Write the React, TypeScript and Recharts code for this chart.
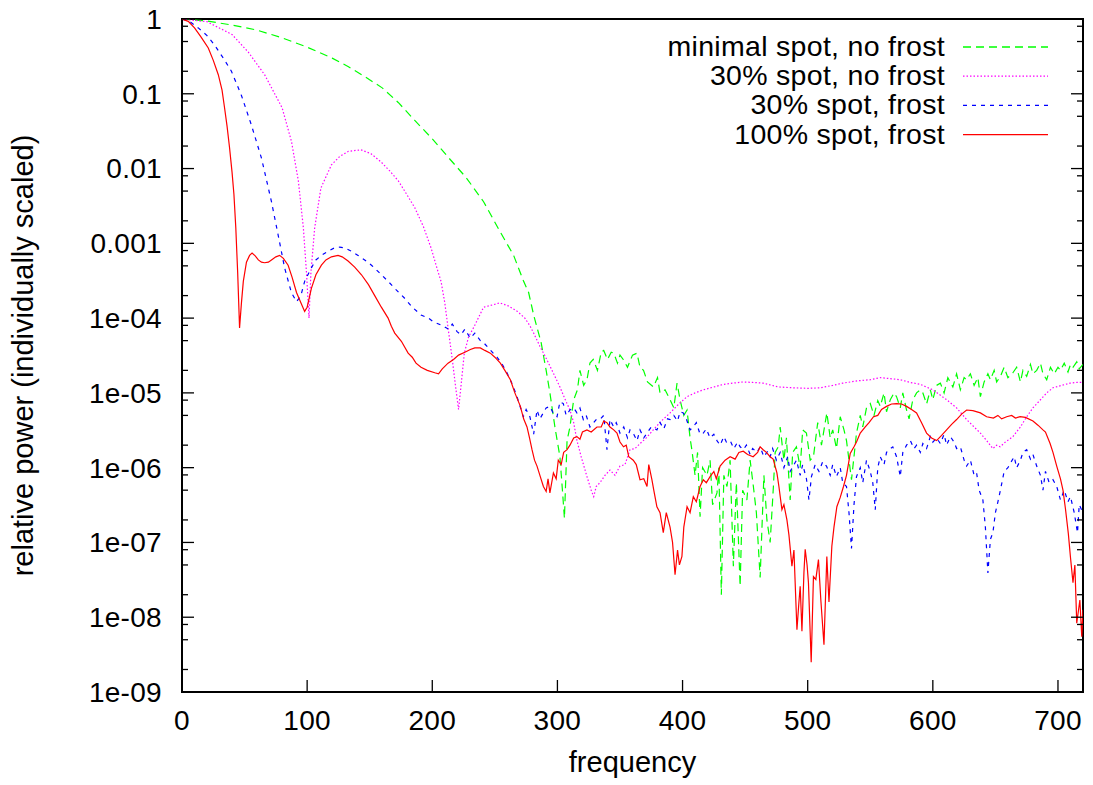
import { LineChart, Line, XAxis, YAxis, ReferenceArea, Legend } from 'recharts'

type Pt = [number, number]

// [frequency, relative power]
const minimalNoFrost: Pt[] = [
  [0, 1], [20, 0.94], [40, 0.83], [60, 0.71], [80, 0.56], [100, 0.42], [120, 0.3], [133, 0.23], [146, 0.17],
  [160, 0.12], [173, 0.076], [186, 0.044], [200, 0.025], [213, 0.014], [227, 0.0076], [241, 0.0036],
  [254, 0.00145], [265, 6.9e-4], [273, 3.1e-4], [277, 2.2e-4], [281, 1.1e-4], [287, 4.7e-5], [291, 2e-5],
  [294, 1e-5], [298, 3.5e-6], [302, 1.4e-6], [304, 5e-7], [305.6, 2.1e-7], [307.7, 2.3e-6], [310, 3.5e-6],
  [313, 8.1e-6], [316, 1.1e-5], [318, 2e-5], [321, 1.26e-5], [323.6, 1.5e-5], [326, 2.5e-5], [328.6, 2.8e-5],
  [332, 2e-5], [335, 3.5e-5], [337, 3.7e-5], [340, 2.8e-5], [343, 3.5e-5], [345, 3.4e-5], [348, 2.5e-5],
  [350, 3.2e-5], [352.6, 2.8e-5], [356, 2.2e-5], [360, 3.2e-5], [363.6, 3.4e-5], [366, 2.2e-5], [368.8, 2e-5],
  [372, 1.4e-5], [376.7, 1.2e-5], [380, 1.6e-5], [382, 1e-5], [386, 1.1e-5], [390, 8.1e-6], [393, 6.3e-6],
  [395.6, 1.35e-5], [398, 8.1e-6], [401, 5e-6], [403.6, 5.9e-6], [406, 2.5e-6], [407.5, 1.7e-6], [410, 7.9e-7],
  [412, 1.6e-6], [414, 2.2e-7], [416, 1e-6], [419.5, 7.9e-7], [422, 1.26e-6], [424, 3.2e-7], [427.5, 4.6e-7],
  [429, 1e-6], [431, 2e-8], [433, 7.9e-7], [435.5, 5.6e-7], [438, 1.26e-6], [440.6, 4.8e-8], [443, 6.3e-7],
  [446, 2.6e-8], [448, 5e-7], [451.4, 3.7e-7], [454, 1.26e-6], [456.6, 5.6e-7], [459, 2.5e-7], [462, 3.4e-8],
  [465, 7.9e-7], [467.4, 2e-7], [470, 1e-7], [472.6, 5.6e-7], [474, 1.6e-6], [476.5, 1.9e-6], [478, 3.5e-6],
  [481, 1.26e-6], [483, 2.5e-6], [486, 3.7e-7], [488, 1.6e-6], [491, 1.9e-6], [494, 1e-6], [496, 3.2e-6],
  [499, 2.9e-6], [502, 1.26e-6], [504.6, 1.4e-6], [508, 4e-6], [511, 2e-6], [515.3, 5.4e-6], [518, 2.5e-6],
  [520, 3.2e-6], [523, 1.8e-6], [526, 4.8e-6], [529, 3.2e-6], [531, 2.3e-6], [535, 6.9e-7], [539, 2.9e-6],
  [542, 5e-6], [544, 3.5e-6], [547, 6.3e-6], [550, 7.2e-6], [553, 5e-6], [556, 7.9e-6], [558, 6.6e-6],
  [561, 1e-5], [563, 5.6e-6], [566, 8.1e-6], [569, 1e-5], [571, 8.9e-6], [574, 6.3e-6], [576, 1e-5],
  [579, 5.9e-6], [581, 4.5e-6], [584, 8.1e-6], [587, 1e-5], [590, 1.1e-5], [592, 1e-5], [595, 7.1e-6],
  [598, 1.1e-5], [600, 8.1e-6], [603, 1.26e-5], [606, 1.35e-5], [609, 1e-5], [612, 1.6e-5], [616, 1.2e-5],
  [619, 1.8e-5], [622, 1.1e-5], [625, 1.6e-5], [627, 1.5e-5], [630, 1.8e-5], [633, 1.26e-5], [636, 1.6e-5],
  [638, 8.9e-6], [641, 1.4e-5], [644, 1.8e-5], [646, 1.5e-5], [649, 2e-5], [651, 1.4e-5], [654, 1.66e-5],
  [657, 2.2e-5], [660, 1.6e-5], [664, 1.86e-5], [667, 2.2e-5], [670, 1.4e-5], [672, 2e-5], [675, 1.66e-5],
  [678, 2.4e-5], [680, 1.8e-5], [683, 2e-5], [686, 2.5e-5], [688, 1.8e-5], [691, 1.5e-5], [694, 2.2e-5],
  [697, 1.8e-5], [700, 2.2e-5], [702, 2e-5], [705, 2.5e-5], [708, 1.9e-5], [710, 2.4e-5], [712, 2.2e-5],
  [715, 2.6e-5], [717, 2.1e-5], [720, 2.4e-5],
]

const spot30NoFrost: Pt[] = [
  [0, 1], [20, 0.92], [40, 0.62], [53, 0.36], [66, 0.18], [80, 0.065], [87.5, 0.023], [93, 0.0068],
  [97, 0.0016], [99.5, 4e-4], [101.5, 1e-4], [103, 4e-4], [106, 0.0016], [111, 0.0055], [119.4, 0.0112],
  [126, 0.0145], [133, 0.017], [143, 0.0178], [151, 0.0158], [159, 0.0123], [166, 0.0093], [173, 0.0068],
  [180, 0.0044], [186, 0.003], [193, 0.00166], [199, 8.7e-4], [204, 4.5e-4], [207, 3.1e-4], [210, 1.6e-4],
  [213, 6.6e-5], [216, 2.8e-5], [218.5, 1.26e-5], [221, 6e-6], [223, 1.26e-5], [225.6, 3.4e-5], [229, 5.6e-5],
  [233.6, 7.8e-5], [241, 1.4e-4], [248, 1.5e-4], [254, 1.6e-4], [261, 1.45e-4], [268, 1.23e-4], [274, 1e-4],
  [278, 7.9e-5], [281, 6.3e-5], [286, 4.2e-5], [291.7, 2.75e-5], [297, 1.8e-5], [302, 1.2e-5], [306, 8.3e-6],
  [310, 5.9e-6], [313, 4e-6], [315.6, 2.3e-6], [319, 1.4e-6], [323.6, 7.6e-7], [327, 5e-7], [329, 4.1e-7],
  [331, 5.6e-7], [334, 6.3e-7], [338, 7.9e-7], [342, 9.3e-7], [346, 7.9e-7], [350, 1.05e-6], [354, 1.1e-6],
  [358, 1.74e-6], [362, 1.8e-6], [366, 2.1e-6], [371, 2.5e-6], [376.6, 3.2e-6], [383, 4.2e-6], [390, 5.4e-6],
  [397, 7.1e-6], [403.6, 8.9e-6], [410, 1e-5], [416.7, 1.1e-5], [425, 1.2e-5], [432.7, 1.3e-5], [440, 1.35e-5],
  [448.6, 1.4e-5], [456, 1.38e-5], [464.4, 1.35e-5], [476.5, 1.2e-5], [488.6, 1.17e-5], [500, 1.15e-5],
  [510, 1.17e-5], [520, 1.26e-5], [528, 1.35e-5], [540, 1.45e-5], [550, 1.5e-5], [558, 1.6e-5], [566, 1.55e-5],
  [574, 1.5e-5], [582, 1.38e-5], [590, 1.3e-5], [600, 1.1e-5], [611, 8.1e-6], [619, 6.3e-6], [627, 4.4e-6],
  [633, 3.5e-6], [638, 2.9e-6], [643, 2.3e-6], [648, 1.8e-6], [651, 2e-6], [653.7, 1.9e-6], [658, 2.2e-6],
  [664, 2.6e-6], [670, 3.5e-6], [675, 4.8e-6], [680, 6.3e-6], [686, 8.1e-6], [691, 1e-5], [696, 1.17e-5],
  [703, 1.26e-5], [709.6, 1.35e-5], [715, 1.38e-5], [720, 1.38e-5],
]

const spot30Frost: Pt[] = [
  [0, 1], [6, 0.93], [13, 0.76], [20, 0.6], [26, 0.45], [33, 0.3], [39.5, 0.2], [47.5, 0.095], [55.5, 0.038],
  [63.5, 0.0138], [71.5, 0.0036], [76.8, 0.0013], [82, 4.7e-4], [87.4, 2.2e-4], [91.5, 1.66e-4], [95, 2e-4],
  [98, 3.1e-4], [103.4, 4.7e-4], [107, 6e-4], [111.4, 6.9e-4], [117, 7.9e-4], [121.8, 8.7e-4], [126, 8.9e-4],
  [129.8, 8.7e-4], [135, 7.9e-4], [140.7, 6.9e-4], [146, 6e-4], [151.4, 5.1e-4], [158, 4e-4], [164.7, 3.1e-4],
  [171, 2.4e-4], [177.7, 1.86e-4], [184, 1.4e-4], [191, 1.1e-4], [197, 1e-4], [201, 8.9e-5], [207, 8.1e-5],
  [213, 7.1e-5], [216, 8.3e-5], [219.8, 6.6e-5], [223, 6e-5], [226, 7.1e-5], [230.4, 5.4e-5], [234, 6.3e-5],
  [238.4, 5e-5], [241, 4.7e-5], [246, 3.8e-5], [251.7, 3e-5], [256, 2.4e-5], [259.7, 1.86e-5], [264, 1.3e-5],
  [267.7, 8.9e-6], [272.8, 4.8e-6], [275, 6e-6], [278, 4.8e-6], [281, 2.8e-6], [283.7, 5.9e-6], [286, 4.5e-6],
  [288.7, 5.4e-6], [291, 6.3e-6], [294, 6.6e-6], [297, 5.2e-6], [299.7, 4.8e-6], [302, 7.6e-6], [304.7, 7.2e-6],
  [307, 5e-6], [310, 5.9e-6], [313, 6.3e-6], [315.6, 5.4e-6], [318, 6.3e-6], [320.7, 4.4e-6], [323, 5e-6],
  [326, 3.5e-6], [329, 4e-6], [331, 4.4e-6], [334, 4.4e-6], [337, 5e-6], [339.6, 1.74e-6], [342, 4.4e-6],
  [345, 3.5e-6], [347, 4e-6], [350, 2.9e-6], [353, 3.5e-6], [356, 2.5e-6], [358, 3.2e-6], [361, 2.8e-6],
  [363.6, 2.3e-6], [366, 3.2e-6], [369, 2.5e-6], [371.6, 2.9e-6], [375, 3.5e-6], [379.5, 3.2e-6], [382, 4e-6],
  [385, 3.3e-6], [388, 4.5e-6], [390, 4.4e-6], [393, 5e-6], [396, 4.2e-6], [398, 5.6e-6], [400.6, 5.4e-6],
  [403, 4.5e-6], [406, 3.2e-6], [408.5, 3.5e-6], [411, 4e-6], [414, 2.8e-6], [416.6, 2.9e-6], [419, 3.3e-6],
  [422, 2.5e-6], [425, 2.8e-6], [427.5, 2.3e-6], [430, 2e-6], [433, 2.6e-6], [435, 2.2e-6], [438, 2.3e-6],
  [441, 1.8e-6], [444, 2.2e-6], [446, 1.9e-6], [448.6, 1.74e-6], [451, 2e-6], [454, 1.5e-6], [456, 1.8e-6],
  [459.5, 1.6e-6], [462, 1.9e-6], [465, 1.4e-6], [468, 1.66e-6], [470, 1.4e-6], [472, 1.8e-6], [475, 1.26e-6],
  [478, 1.6e-6], [481, 1e-6], [484, 1.4e-6], [486, 8.9e-7], [488.4, 1.05e-6], [491, 1.26e-6], [494, 7.9e-7],
  [496, 1.1e-6], [499, 7.1e-7], [501, 3.7e-7], [503, 7.6e-7], [506, 1.1e-6], [509, 8.9e-7], [512, 1.2e-6],
  [515, 1.05e-6], [518, 7.9e-7], [520, 1.1e-6], [523, 7.6e-7], [526, 1e-6], [528, 6.3e-7], [531, 5.6e-7],
  [533, 2.5e-7], [535, 8.3e-8], [537, 3.2e-7], [539, 7.6e-7], [542, 1e-6], [544, 6.3e-7], [547, 1.26e-6],
  [550, 8.9e-7], [552, 6.3e-7], [554, 2.75e-7], [556, 1e-6], [558, 1.4e-6], [561, 1.1e-6], [563, 1.6e-6],
  [566, 1.8e-6], [568, 1.9e-6], [571, 1.4e-6], [574, 7.6e-7], [576, 1.6e-6], [579, 2e-6], [582, 2.3e-6],
  [585, 1.8e-6], [587, 2e-6], [590, 1.6e-6], [592, 2.1e-6], [595, 1.8e-6], [598, 2.6e-6], [600, 2.2e-6],
  [603, 2.5e-6], [606, 2.1e-6], [609, 2.8e-6], [611, 2e-6], [614, 2.6e-6], [617, 2.2e-6], [619, 1.8e-6],
  [622, 1.9e-6], [625, 1.26e-6], [627, 1.05e-6], [630, 1.26e-6], [633, 7.9e-7], [635, 8.5e-7], [637, 5e-7],
  [640, 3.7e-7], [642, 1.6e-7], [644, 3.9e-8], [646, 1.1e-7], [648, 1.35e-7], [650, 2.5e-7], [652, 3.5e-7],
  [654, 5e-7], [657, 8.9e-7], [660, 1e-6], [662, 1.15e-6], [665, 1.4e-6], [667, 1e-6], [670, 1.26e-6],
  [672, 1.6e-6], [675, 1.74e-6], [678, 1.3e-6], [680, 1.5e-6], [683, 1.05e-6], [686, 7.9e-7], [688, 5e-7],
  [690, 8.9e-7], [693, 6.3e-7], [696, 6.9e-7], [699, 5.6e-7], [702, 3.7e-7], [705, 5e-7], [708, 3.5e-7],
  [710, 4.1e-7], [713, 2.5e-7], [715.6, 1.35e-7], [717, 3.2e-7], [720, 2.5e-7],
]

const spot100Frost: Pt[] = [
  [0, 1], [5, 0.93], [10, 0.76], [15, 0.58], [21, 0.41], [25, 0.28], [29, 0.18], [32, 0.112], [34, 0.065],
  [36, 0.037], [38, 0.019], [40, 0.0089], [41.5, 0.0045], [43, 0.0016], [44.5, 4e-4], [46, 7.4e-5],
  [47.5, 1.6e-4], [49, 3.1e-4], [51.5, 5.6e-4], [54, 6.9e-4], [56, 7.4e-4], [58.5, 6.8e-4], [61, 6e-4],
  [63.5, 5.6e-4], [66, 5.5e-4], [69, 5.6e-4], [71.5, 6e-4], [75, 6.6e-4], [78, 6.9e-4], [81, 6.3e-4],
  [84.8, 5.1e-4], [88, 3.5e-4], [91.5, 2.2e-4], [95, 1.6e-4], [98, 1.23e-4], [100, 1.4e-4], [103.4, 2.5e-4],
  [107, 3.8e-4], [111.4, 5.1e-4], [115, 6e-4], [119.4, 6.6e-4], [124.7, 6.9e-4], [128, 6.6e-4], [132.7, 5.8e-4],
  [138, 4.8e-4], [143.4, 3.8e-4], [149, 2.8e-4], [154, 2e-4], [159.3, 1.4e-4], [164.7, 1e-4], [167.3, 7.8e-5],
  [170, 6.3e-5], [175.3, 4.9e-5], [180.7, 3.4e-5], [184, 3e-5], [187, 2.5e-5], [191, 2.2e-5], [196, 2e-5],
  [202, 1.86e-5], [205, 1.8e-5], [208, 2.1e-5], [212.6, 2.5e-5], [217, 2.8e-5], [221, 3.2e-5], [226, 3.5e-5],
  [230.4, 3.8e-5], [234, 4e-5], [238.4, 4e-5], [242, 3.7e-5], [246.4, 3.4e-5], [250, 3e-5], [254.4, 2.5e-5],
  [258, 2e-5], [262.4, 1.5e-5], [266, 1e-5], [270.4, 6.6e-6], [273, 4.5e-6], [275.7, 3.5e-6], [277.7, 2.5e-6],
  [279.7, 1.74e-6], [281.7, 1.26e-6], [283.7, 1.05e-6], [286, 7.9e-7], [288.8, 5.6e-7], [291, 4.8e-7],
  [292.5, 7.1e-7], [294, 4.6e-7], [296.8, 8.5e-7], [299, 7.1e-7], [300.7, 1.26e-6], [303, 1.1e-6], [305, 1.6e-6],
  [307.7, 1.74e-6], [310, 2e-6], [313, 2.5e-6], [315.6, 2.6e-6], [318, 2.4e-6], [320, 3e-6], [323.6, 3.2e-6],
  [327, 3e-6], [331.6, 3.5e-6], [335, 3.5e-6], [337, 4.2e-6], [339.6, 4e-6], [342, 3.5e-6], [345, 3.2e-6],
  [347.6, 2.9e-6], [350, 2.2e-6], [352.8, 1.9e-6], [355, 2e-6], [357, 1.4e-6], [360.6, 1.26e-6], [363, 1.1e-6],
  [366, 6.9e-7], [369, 7.1e-7], [371.6, 5.6e-7], [373, 1.1e-6], [375.5, 6.9e-7], [377, 5e-7], [379.5, 3e-7],
  [382, 2.5e-7], [384.6, 1.35e-7], [387, 2.5e-7], [390, 1.6e-7], [392, 1e-7], [394, 3.7e-8], [396, 7.9e-8],
  [397.5, 5e-8], [399.5, 6.5e-8], [401, 1.6e-7], [403.6, 3e-7], [406, 2.5e-7], [408.6, 4.1e-7], [411, 3.5e-7],
  [414, 5.6e-7], [416.6, 6.9e-7], [419, 6.3e-7], [422, 7.6e-7], [425, 8.9e-7], [427, 7.1e-7], [430, 1.05e-6],
  [434, 1.26e-6], [438, 1.4e-6], [442, 1.3e-6], [445, 1.6e-6], [448.5, 1.66e-6], [452, 1.5e-6], [456.4, 1.4e-6],
  [460, 1.6e-6], [462, 1.9e-6], [464.4, 1.74e-6], [467, 1.6e-6], [470, 1.4e-6], [472.4, 1.3e-6], [475.4, 8.5e-7],
  [477, 5.6e-7], [479.4, 2.75e-7], [481, 3.2e-7], [483.4, 2e-7], [485, 1.26e-7], [487.4, 4.8e-8], [489, 7.9e-8],
  [491.4, 6.8e-9], [493, 1.6e-8], [494, 2.6e-8], [495.4, 6.5e-9], [497, 4e-8], [498, 8.1e-8], [499.5, 5e-8],
  [500.6, 2.9e-8], [502.8, 2.5e-9], [504.6, 3.5e-8], [506.5, 3.2e-8], [508.6, 5.9e-8], [510.5, 1.7e-8],
  [513, 4.3e-9], [515.3, 6.5e-8], [517, 1.6e-8], [519.3, 8.9e-8], [521, 1.6e-7], [523.3, 3e-7], [526, 4e-7],
  [528.6, 5.6e-7], [531, 7.9e-7], [534, 1.55e-6], [537, 1.9e-6], [539, 2.2e-6], [542, 2.9e-6], [546, 3.5e-6],
  [549, 4e-6], [552.6, 4.8e-6], [556, 5e-6], [559, 6e-6], [563, 6.6e-6], [567, 7.1e-6], [571, 7.2e-6],
  [575, 7.1e-6], [579, 6.6e-6], [583, 6e-6], [587, 5.4e-6], [591, 4e-6], [595, 2.9e-6], [599, 2.5e-6],
  [603, 2.3e-6], [607, 2.7e-6], [611, 3.2e-6], [615, 3.8e-6], [619, 4.4e-6], [623, 5.2e-6], [627, 5.9e-6],
  [632, 5.8e-6], [638, 5.4e-6], [643, 4.8e-6], [648.4, 4.6e-6], [652, 5e-6], [655, 4.5e-6], [659, 4.8e-6],
  [663, 5e-6], [666, 4.6e-6], [669.7, 4.8e-6], [674, 4.7e-6], [680, 4.2e-6], [684, 3.7e-6], [688, 3.2e-6],
  [690, 3e-6], [693.7, 2.1e-6], [696, 1.6e-6], [699, 1.05e-6], [702, 7.1e-7], [704, 5e-7], [706, 2.8e-7],
  [708.3, 1.3e-7], [710, 6.3e-8], [712, 2.9e-8], [713.5, 5e-8], [715, 8.3e-9], [717.5, 1.7e-8], [719, 5.5e-9],
  [720, 1.26e-8],
]

const freqTicks = [0, 100, 200, 300, 400, 500, 600, 700]
const powerTicks = [1, 0.1, 0.01, 0.001, 1e-4, 1e-5, 1e-6, 1e-7, 1e-8, 1e-9]
const powerLabels = ['1', '0.1', '0.01', '0.001', '1e-04', '1e-05', '1e-06', '1e-07', '1e-08', '1e-09']
const minorSteps = [2, 5, 8]

const series = [
  { name: 'minimal spot, no frost', points: minimalNoFrost, color: '#00ff00', dash: '8 5' },
  { name: '30% spot, no frost', points: spot30NoFrost, color: '#ff00ff', dash: '1.5 2' },
  { name: '30% spot, frost', points: spot30Frost, color: '#0000ff', dash: '4 5' },
  { name: '100% spot, frost', points: spot100Frost, color: '#ff0000', dash: undefined },
]

const FONT = '"Liberation Sans", Arial, Helvetica, sans-serif'
const W = 1093
const H = 785
const X_MAX = 720
const Y_DOMAIN: [number, number] = [1e-9, 1]
const Y_GAP = 20 // label to frame
const X_GAP = 18
const MAJOR = 12
const MINOR = 6

const minorTicks = powerTicks.slice(1).flatMap(d => minorSteps.map(m => m * d))
const allPowerTicks = [...powerTicks, ...minorTicks]

const majorIndex = (v: number) => powerTicks.findIndex(t => Math.abs(Math.log10(t) - Math.log10(v)) < 1e-6)

const tickLine = { stroke: '#000', strokeWidth: 1.3 }
const textStyle = { fill: '#000', fontSize: 28, fontFamily: FONT, letterSpacing: 0.3 }

// left axis: label outside, tick mark inward from the frame
const LeftTick = ({ x, y, payload }: any) => {
  const i = majorIndex(payload.value)
  const edge = x + Y_GAP
  return (
    <g>
      <line x1={edge} x2={edge + (i >= 0 ? MAJOR : MINOR)} y1={y} y2={y} {...tickLine} />
      {i >= 0 && (
        <text x={x} y={y} dy="0.355em" textAnchor="end" {...textStyle}>
          {powerLabels[i]}
        </text>
      )}
    </g>
  )
}

const RightTick = ({ x, y, payload }: any) => {
  const len = majorIndex(payload.value) >= 0 ? MAJOR : MINOR
  return <line x1={x} x2={x - len} y1={y} y2={y} {...tickLine} />
}

const BottomTick = ({ x, y, payload }: any) => {
  const edge = y - X_GAP
  return (
    <g>
      {payload.value > 0 && <line x1={x} x2={x} y1={edge} y2={edge - MAJOR} {...tickLine} />}
      <text x={x} y={y} dy="0.71em" textAnchor="middle" {...textStyle}>
        {payload.value}
      </text>
    </g>
  )
}

const TopTick = ({ x, y, payload }: any) =>
  payload.value > 0 ? <line x1={x} x2={x} y1={y} y2={y + MAJOR} {...tickLine} /> : <g />

const renderLegend = () => (
  <svg width={W} height={160} style={{ display: 'block' }}>
    {series.map((s, i) => (
      <g key={s.name}>
        <text
          x={945}
          y={56 + i * 29.2}
          textAnchor="end"
          fontSize={28.5}
          letterSpacing={0.3}
          fontFamily={FONT}
          fill="#000"
        >
          {s.name}
        </text>
        <line
          x1={963}
          x2={1048}
          y1={47 + i * 29.2}
          y2={47 + i * 29.2}
          stroke={s.color}
          strokeWidth={1.3}
          strokeDasharray={s.dash}
        />
      </g>
    ))}
  </svg>
)

export default function App() {
  return (
    <div style={{ position: 'absolute', left: 0, top: 0, background: '#fff' }}>
      <LineChart width={W} height={H} margin={{ top: 0, right: 0, bottom: 8, left: 22 }}>
        <XAxis
          type="number"
          dataKey="f"
          domain={[0, X_MAX]}
          ticks={freqTicks}
          interval={0}
          allowDataOverflow
          axisLine={false}
          tickLine={false}
          tickSize={0}
          tickMargin={X_GAP}
          height={85}
          tick={BottomTick}
          label={{ value: 'frequency', position: 'insideBottom', offset: 5, fill: '#000', fontSize: 29, fontFamily: FONT }}
        />
        <XAxis
          xAxisId="top"
          orientation="top"
          type="number"
          domain={[0, X_MAX]}
          ticks={freqTicks}
          interval={0}
          allowDataOverflow
          axisLine={false}
          tickLine={false}
          tickSize={0}
          tickMargin={0}
          height={19}
          tick={TopTick}
        />
        <YAxis
          type="number"
          scale="log"
          domain={Y_DOMAIN}
          ticks={allPowerTicks}
          interval={0}
          allowDataOverflow
          axisLine={false}
          tickLine={false}
          tickSize={0}
          tickMargin={Y_GAP}
          width={160}
          tick={LeftTick}
          label={{
            content: ({ viewBox }: any) => {
              const cy = viewBox.y + viewBox.height / 2
              return (
                <text
                  x={33}
                  y={cy}
                  transform={`rotate(-90, 33, ${cy})`}
                  textAnchor="middle"
                  fontSize={29}
                  fontFamily={FONT}
                  fill="#000"
                >
                  relative power (individually scaled)
                </text>
              )
            },
          }}
        />
        <YAxis
          yAxisId="right"
          orientation="right"
          type="number"
          scale="log"
          domain={Y_DOMAIN}
          ticks={allPowerTicks}
          interval={0}
          allowDataOverflow
          axisLine={false}
          tickLine={false}
          tickSize={0}
          tickMargin={0}
          width={10}
          tick={RightTick}
        />

        <Legend
          content={renderLegend}
          layout="vertical"
          align="center"
          verticalAlign="middle"
          wrapperStyle={{ left: 0, top: 0, width: W, height: 160, pointerEvents: 'none' }}
        />

        {series.map(s => (
          <Line
            key={s.name}
            name={s.name}
            data={s.points.map(([f, p]) => ({ f, p }))}
            dataKey="p"
            type="linear"
            stroke={s.color}
            strokeWidth={1.2}
            strokeDasharray={s.dash}
            dot={false}
            activeDot={false}
            isAnimationActive={false}
          />
        ))}

        <ReferenceArea x1={0} x2={X_MAX} y1={1e-9} y2={1} ifOverflow="visible" fill="none" fillOpacity={0} stroke="#000" strokeWidth={2} />
      </LineChart>
    </div>
  )
}
